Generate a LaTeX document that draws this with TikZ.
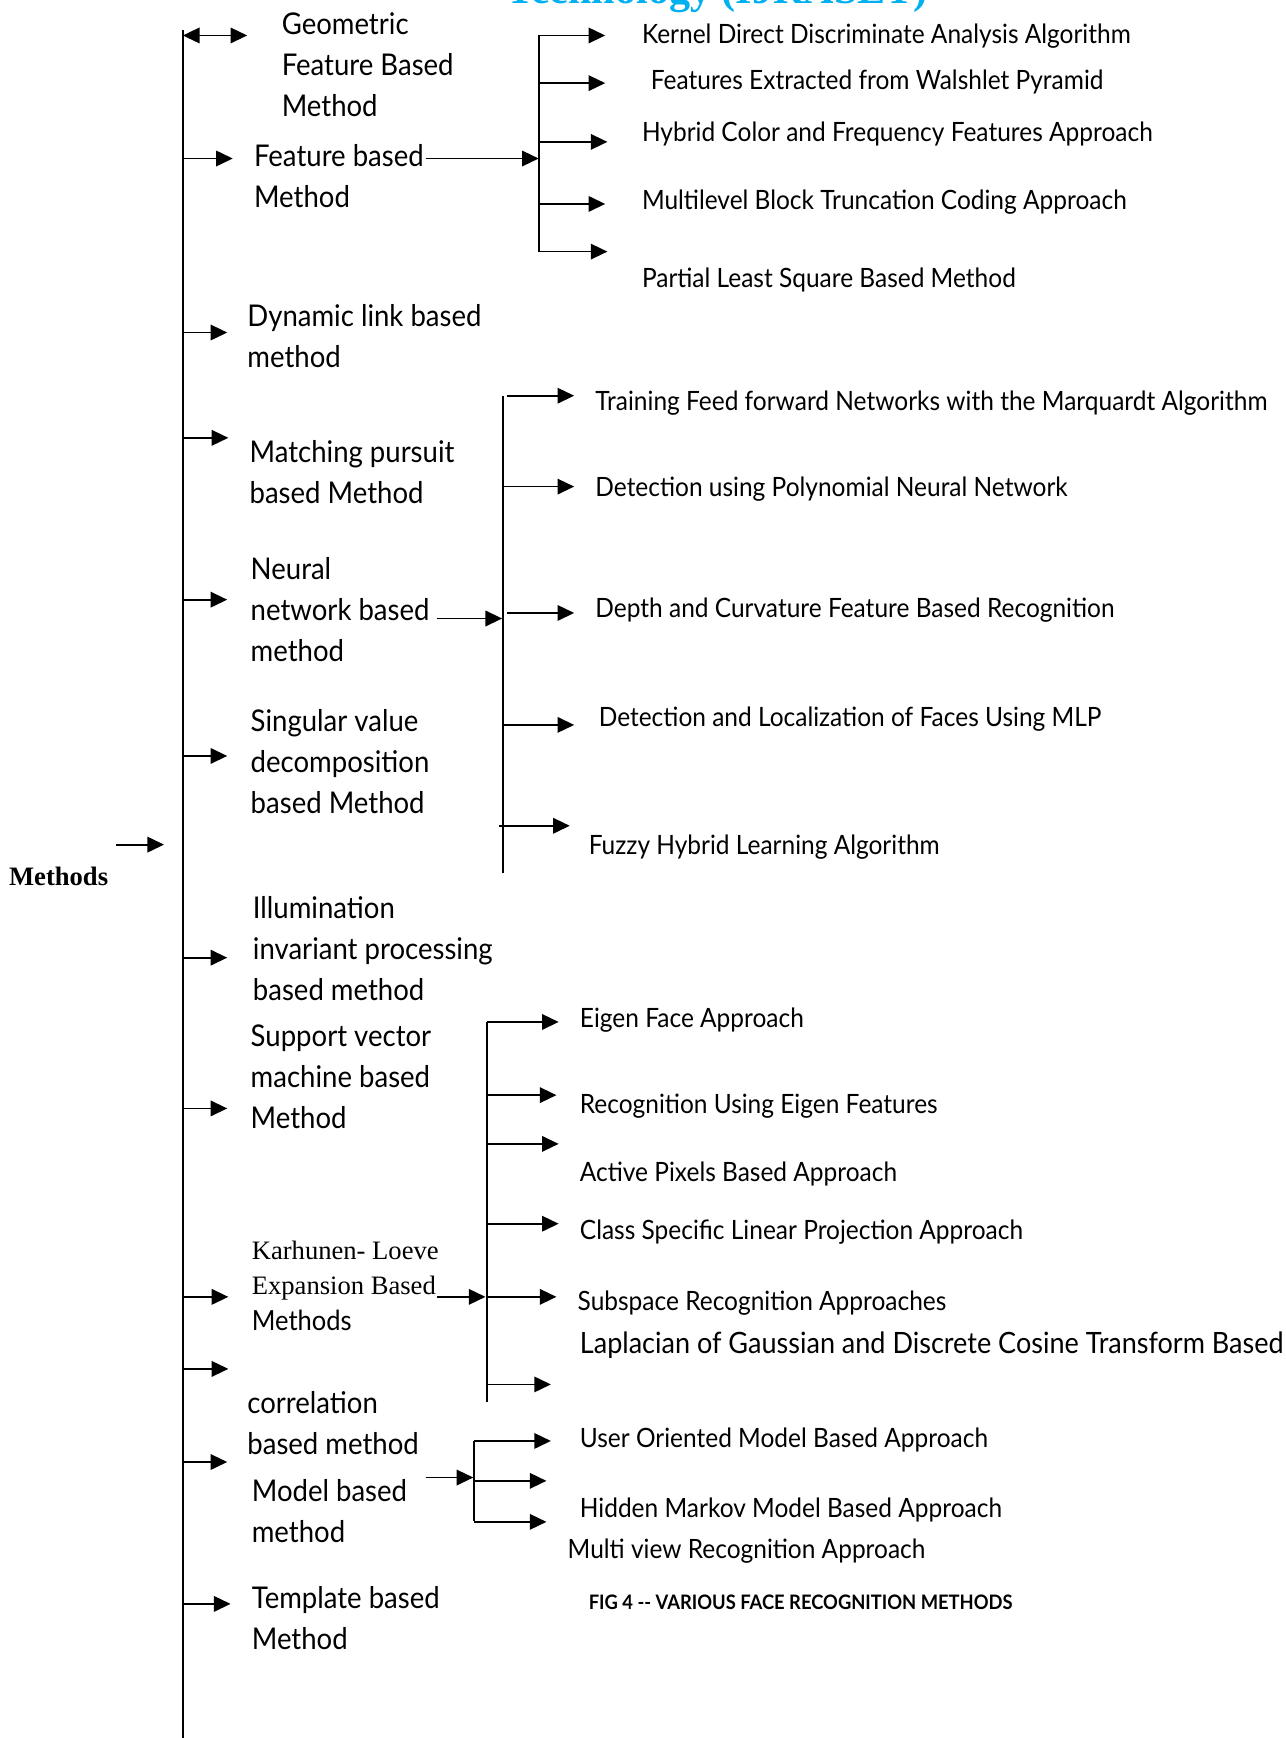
\documentclass[tikz,border=0pt]{standalone}
\usepackage{fontspec}
\setmainfont{Lato}[FakeStretch=0.92]
\newfontfamily\tnr{Liberation Serif}
\newfontfamily\capfont{Lato}[FakeStretch=0.92]
\usetikzlibrary{arrows.meta}
\definecolor{headcyan}{RGB}{0,176,240}
\tikzset{
  lab/.style={anchor=base west, inner sep=0pt, align=left, font=\fontsize{27}{37}\selectfont},
  item/.style={anchor=base west, inner sep=0pt, font=\fontsize{24}{28}\selectfont},
  ln/.style={line width=1.7pt},
  arr/.style={line width=1.6pt, -{Triangle[length=15pt,width=14pt]}},
  darr/.style={line width=1.6pt, {Triangle[length=15pt,width=14pt]}-{Triangle[length=15pt,width=14pt]}},
}
\begin{document}
\begin{tikzpicture}[x=1pt,y=-1pt]
\useasboundingbox (0,0) rectangle (1160,1568);
% clipped header
\node[font=\tnr\bfseries\fontsize{38}{38}\selectfont, text=headcyan, anchor=base west, inner sep=0pt] (head) at (457,3) {Technology (IJRASET)};

% root
\node[anchor=base west, inner sep=0pt, font=\tnr\bfseries\fontsize{24}{24}\selectfont] (methods) at (8,799) {Methods};
\coordinate (mStart) at (105,762);
\coordinate (mTip) at (148,762);
\draw[arr] (mStart) -- (mTip);

% trunk
\coordinate (trunkTop) at (165,27);
\coordinate (trunkBot) at (165,1568);
\draw[ln] (trunkTop) -- (trunkBot);

% first-level labels (anchor = baseline of last line)
\node[lab] (geo) at (254,105) {Geometric\\Feature Based\\Method};
\node[lab] (feat) at (229,187) {Feature based\\Method};
\node[lab] (dyn) at (223,332) {Dynamic link based\\method};
\node[lab] (match) at (225,454) {Matching pursuit\\based Method};
\node[lab] (neural) at (226,597) {Neural\\network based\\method};
\node[lab] (svd) at (226,734) {Singular value\\decomposition\\based Method};
\node[lab] (illum) at (228,903) {Illumination\\invariant processing\\based method};
\node[lab] (svm) at (226,1018) {Support vector\\machine based\\Method};
\node[lab, font=\fontsize{24}{32}\selectfont] (kl) at (227,1200) {{\tnr Karhunen- Loeve}\\{\tnr Expansion Based}\\{\fontsize{25}{32}\selectfont Methods}};
\node[lab] (corr) at (223,1312) {correlation\\based method};
\node[lab] (model) at (227,1392) {Model based\\method};
\node[lab] (templ) at (227,1488) {Template based\\Method};

% trunk arrows
\coordinate (aGeo) at (223,32);
\coordinate (aFeat) at (210,143);
\coordinate (aDyn) at (205,300);
\coordinate (aMatch) at (206,395);
\coordinate (aNeural) at (205,541);
\coordinate (aSvd) at (205,682);
\coordinate (aIllum) at (205,864);
\coordinate (aSvm) at (205,1000);
\coordinate (aKl) at (206,1170);
\coordinate (aExtra) at (206,1235);
\coordinate (aCorr) at (205,1319);
\coordinate (aTempl) at (208,1447);
\draw[darr] (trunkTop |- aGeo) -- (aGeo);
\foreach \c in {aFeat,aDyn,aMatch,aNeural,aSvd,aIllum,aSvm,aKl,aExtra,aCorr,aTempl}
  \draw[arr] (trunkTop |- \c) -- (\c);

% ---- Feature based branch
\coordinate (fFrom) at (384,143);
\coordinate (fBus) at (486,143);
\coordinate (fTop) at (486,32);
\coordinate (fBot) at (486,227);
\draw[arr] (fFrom) -- (fBus);
\draw[ln] (fTop) -- (fBot);
\node[item] (k1) at (579,39) {Kernel Direct Discriminate Analysis Algorithm};
\node[item] (k2) at (587,81) {Features Extracted from Walshlet Pyramid};
\node[item] (k3) at (579,128) {Hybrid Color and Frequency Features Approach};
\node[item] (k4) at (579,189) {Multilevel Block Truncation Coding Approach};
\node[item] (k5) at (579,259) {Partial Least Square Based Method};
\coordinate (fk1) at (546,32);
\coordinate (fk2) at (546,75);
\coordinate (fk3) at (548,128);
\coordinate (fk4) at (546,184);
\coordinate (fk5) at (548,227);
\foreach \c in {fk1,fk2,fk3,fk4,fk5}
  \draw[arr] (fTop |- \c) -- (\c);

% ---- Neural network branch
\coordinate (nFrom) at (394,558);
\coordinate (nBus) at (453,558);
\coordinate (nTop) at (454,357);
\coordinate (nBot) at (454,788);
\draw[arr] (nFrom) -- (nBus);
\draw[ln] (nTop) -- (nBot);
\node[item] (n1) at (537,370) {Training Feed forward Networks with the Marquardt Algorithm};
\node[item] (n2) at (537,448) {Detection using Polynomial Neural Network};
\node[item] (n3) at (537,557) {Depth and Curvature Feature Based Recognition};
\node[item] (n4) at (540,655) {Detection and Localization of Faces Using MLP};
\node[item] (n5) at (531,771) {Fuzzy Hybrid Learning Algorithm};
\coordinate (nk1) at (518,357);
\coordinate (nk2) at (518,439);
\coordinate (nk3) at (518,553);
\coordinate (nk4) at (518,654);
\coordinate (nk5) at (514,745);
\draw[arr] ([xshift=3pt]nTop |- nk1) -- (nk1);
\draw[arr] (nTop |- nk2) -- (nk2);
\draw[arr] ([xshift=3pt]nTop |- nk3) -- (nk3);
\draw[arr] (nTop |- nk4) -- (nk4);
\draw[arr] ([xshift=-4pt]nTop |- nk5) -- (nk5);

% ---- Support vector / Karhunen-Loeve branch
\coordinate (sFrom) at (394,1170);
\coordinate (sBus) at (438,1170);
\coordinate (sTop) at (439,922);
\coordinate (sBot) at (439,1265);
\draw[arr] (sFrom) -- (sBus);
\draw[ln] (sTop) -- (sBot);
\node[item] (s1) at (523,927) {Eigen Face Approach};
\node[item] (s2) at (523,1005) {Recognition Using Eigen Features};
\node[item] (s3) at (523,1066) {Active Pixels Based Approach};
\node[item] (s4) at (523,1118) {Class Specific Linear Projection Approach};
\node[item] (s5) at (521,1182) {Subspace Recognition Approaches};
\node[item, font=\fontsize{26.5}{30}\selectfont] (s6) at (523,1221) {Laplacian of Gaussian and Discrete Cosine Transform Based};
\coordinate (sk1) at (504,922);
\coordinate (sk2) at (502,988);
\coordinate (sk3) at (504,1032);
\coordinate (sk4) at (504,1104);
\coordinate (sk5) at (502,1170);
\coordinate (sk6) at (497,1249);
\foreach \c in {sk1,sk2,sk3,sk4,sk5,sk6}
  \draw[arr] (sTop |- \c) -- (\c);

% ---- Model based branch
\coordinate (mdFrom) at (384,1333);
\coordinate (mdBus) at (427,1333);
\coordinate (mdTop) at (428,1300);
\coordinate (mdBot) at (428,1372);
\draw[arr] (mdFrom) -- (mdBus);
\draw[ln] (mdTop) -- (mdBot);
\node[item] (m1) at (523,1306) {User Oriented Model Based Approach};
\node[item] (m2) at (523,1369) {Hidden Markov Model Based Approach};
\node[item] (m3) at (512,1406) {Multi view Recognition Approach};
\coordinate (mk1) at (497,1300);
\coordinate (mk2) at (493,1336);
\coordinate (mk3) at (493,1373);
\foreach \c in {mk1,mk2,mk3}
  \draw[arr] (mdTop |- \c) -- (\c);

% caption
\node[anchor=base west, inner sep=0pt, font=\capfont\bfseries\fontsize{18}{18}\selectfont] (cap) at (531,1452) {FIG 4 -- VARIOUS FACE RECOGNITION METHODS};
\end{tikzpicture}
\end{document}
